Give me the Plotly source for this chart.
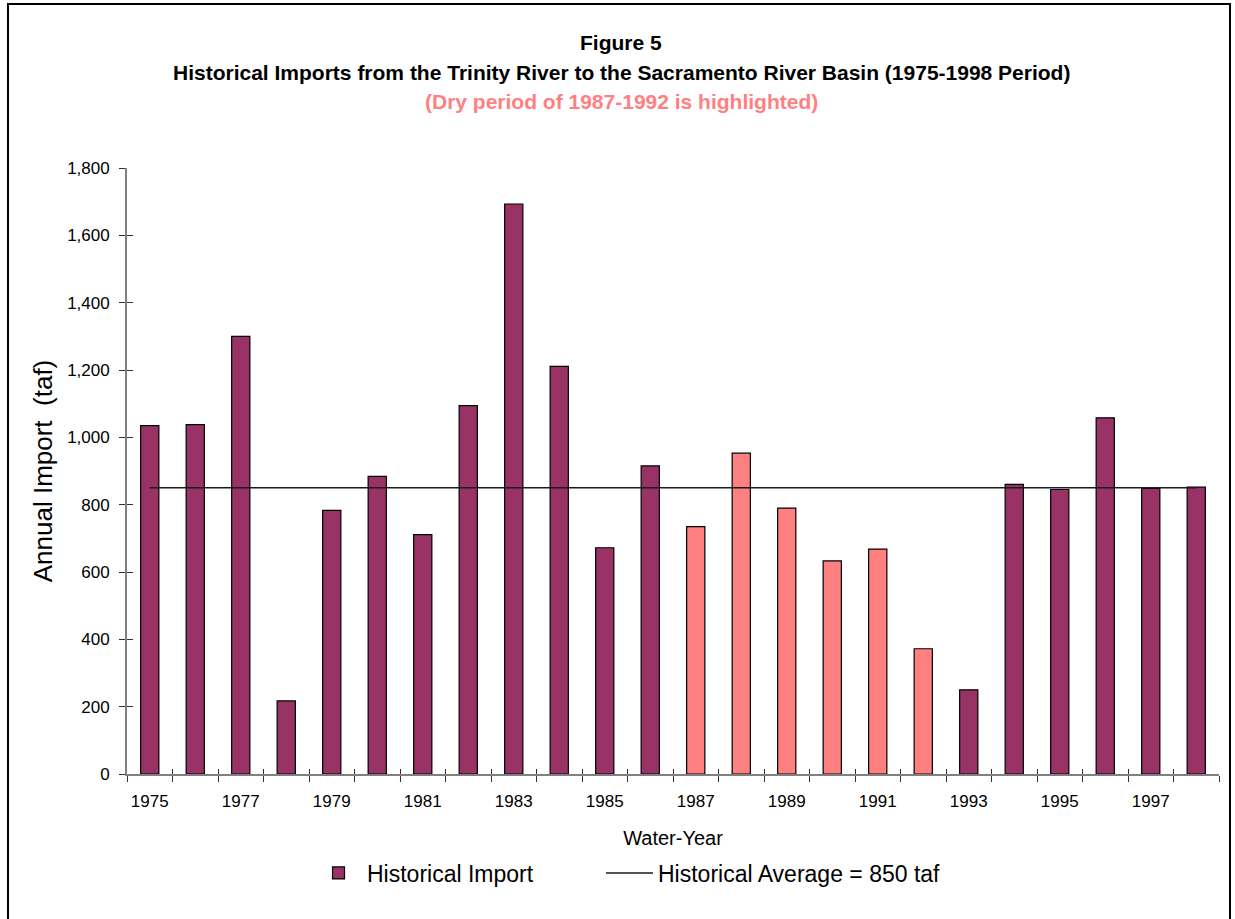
import plotly.graph_objects as go

# ---- data ----
years = list(range(1975, 1999))
imports = [1035, 1038, 1300, 217, 783, 884, 711, 1094, 1693, 1211, 672, 915,
           735, 953, 790, 633, 668, 372, 250, 860, 845, 1058, 848, 852]
dry_years = [1987, 1988, 1989, 1990, 1991, 1992]
historical_average = 850
y_ticks = [0, 200, 400, 600, 800, 1000, 1200, 1400, 1600, 1800]
label_years = years[::2]

# ---- styles ----
W, H = 1235, 919
ML = 127
MT = 168
MR = W - 1219
MB = H - 774
PW, PH = W - ML - MR, H - MT - MB
FONT = "Liberation Sans, Arial, sans-serif"
PLUM = "#993366"
SALMON = "#FF8080"

bar_colors = [SALMON if y in dry_years else PLUM for y in years]
x_range = [years[0] - 0.5, years[-1] + 0.5]
boundaries = [y - 0.5 for y in years] + [years[-1] + 0.5]


def px_to_paper_x(px):
    return (px - ML) / PW


def px_to_paper_y(py):
    return (H - MB - py) / PH


fig = go.Figure()
fig.add_trace(go.Bar(
    x=years, y=imports, name="Historical Import", legend="legend",
    marker=dict(color=bar_colors, line=dict(color="black", width=1.2)),
))
fig.add_trace(go.Scatter(
    x=years, y=[historical_average] * len(years), mode="lines",
    name="Historical Average = 850 taf", legend="legend2",
    line=dict(color="#1a1a1a", width=1.5),
))
# invisible helpers to render overlay axes
fig.add_trace(go.Scatter(x=[years[0]], y=[0], xaxis="x2", yaxis="y2",
                         mode="markers", marker=dict(opacity=0), showlegend=False,
                         hoverinfo="skip"))
fig.add_trace(go.Scatter(x=[years[0]], y=[0], xaxis="x3", yaxis="y",
                         mode="markers", marker=dict(opacity=0), showlegend=False,
                         hoverinfo="skip"))

axis_gray = "#808080"
tick_dark = "#303030"
legend_common = dict(
    orientation="h", xanchor="left", yanchor="middle", y=px_to_paper_y(873),
    font=dict(size=23, family=FONT, color="black"),
    itemwidth=47, bgcolor="rgba(0,0,0,0)",
)

fig.update_layout(
    width=W, height=H,
    margin=dict(l=ML, r=MR, t=MT, b=MB),
    paper_bgcolor="white", plot_bgcolor="white",
    font=dict(family=FONT, color="black"),
    bargap=0.6,
    showlegend=True,
    legend=dict(x=px_to_paper_x(310), **legend_common),
    legend2=dict(x=px_to_paper_x(601), **legend_common),
    xaxis=dict(
        range=x_range, tickmode="array", tickvals=boundaries,
        ticks="outside", ticklen=6, tickwidth=1.3, tickcolor=tick_dark,
        showticklabels=False, showline=True, linecolor=axis_gray, linewidth=1.8,
        showgrid=False, zeroline=False,
    ),
    xaxis2=dict(
        overlaying="x", anchor="y", range=x_range, tickmode="array",
        tickvals=boundaries, ticks="inside", ticklen=5, tickwidth=1.3,
        tickcolor=tick_dark, showticklabels=False, showline=False,
        showgrid=False, zeroline=False,
    ),
    xaxis3=dict(
        overlaying="x", anchor="y", range=x_range, tickmode="array",
        tickvals=label_years, ticktext=[str(y) for y in label_years],
        ticks="", showline=False, showgrid=False, zeroline=False,
        tickfont=dict(size=17, family=FONT, color="black"),
        ticklabelstandoff=15,
        title=dict(text="Water-Year", font=dict(size=20, family=FONT, color="black"),
                   standoff=20),
    ),
    yaxis=dict(
        range=[0, 1800], tickmode="array", tickvals=y_ticks,
        tickformat=",", ticks="outside", ticklen=6, tickwidth=1.3,
        tickcolor=tick_dark, showline=True, linecolor=axis_gray, linewidth=1.8,
        showgrid=False, zeroline=False,
        tickfont=dict(size=17, family=FONT, color="black"),
        ticklabelstandoff=6,
        title=dict(text="Annual Import  (taf)", font=dict(size=26, family=FONT, color="black"),
                   standoff=7),
    ),
    yaxis2=dict(
        overlaying="y", anchor="x", range=[0, 1800], tickmode="array",
        tickvals=y_ticks, ticks="inside", ticklen=6, tickwidth=1.3,
        tickcolor=tick_dark, showticklabels=False, showline=False,
        showgrid=False, zeroline=False,
    ),
)

title_lines = [
    ("Figure 5", "black", 43),
    ("Historical Imports from the Trinity River to the Sacramento River Basin (1975-1998 Period)", "black", 73),
    ("(Dry period of 1987-1992 is highlighted)", SALMON, 101),
]
for text, color, ypx in title_lines:
    fig.add_annotation(
        text=f"<b>{text}</b>", xref="paper", yref="paper",
        x=px_to_paper_x(621), y=px_to_paper_y(ypx),
        xanchor="center", yanchor="middle", showarrow=False,
        font=dict(size=21, family=FONT, color=color),
    )

# page frame
fig.add_shape(
    type="rect", xref="paper", yref="paper",
    x0=px_to_paper_x(8), x1=px_to_paper_x(1230),
    y0=px_to_paper_y(H + 40), y1=px_to_paper_y(4),
    line=dict(color="black", width=2), fillcolor="rgba(0,0,0,0)", layer="below",
)

fig.write_html(
    "out.html",
    config={"displayModeBar": False},
    post_script="document.body.style.margin='0';document.body.style.overflow='hidden';",
)
